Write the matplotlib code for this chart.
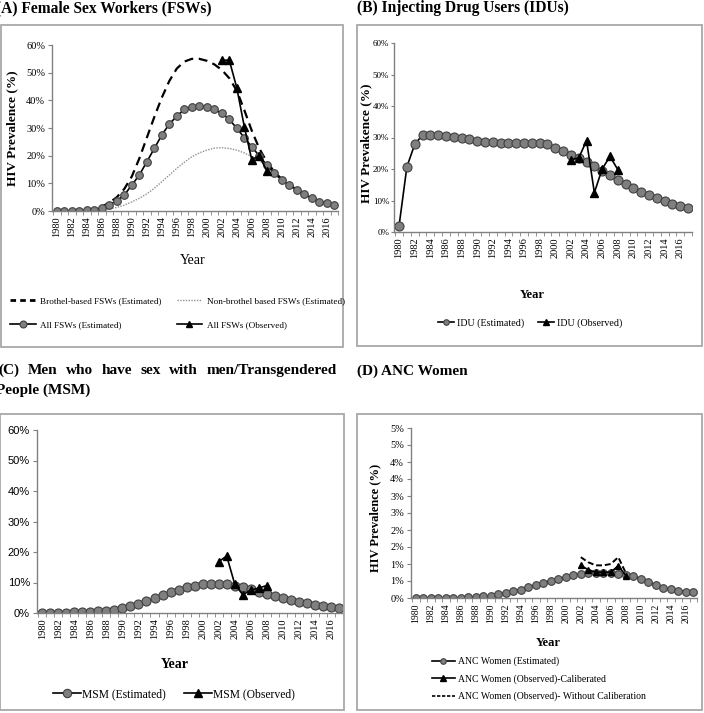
import numpy as np
import matplotlib
matplotlib.use("Agg")
import matplotlib.pyplot as plt
from matplotlib.patches import Rectangle
from matplotlib.lines import Line2D
from matplotlib.ticker import FuncFormatter, MultipleLocator

# ---- data (HIV prevalence, %) ----
years = list(range(1980, 2018))
obs_years = list(range(2002, 2009))

fsw_brothel = [0, 0, 0.1, 0.2, 0.4, 0.8, 1.6, 3.0, 5.0, 8.0, 12.5, 19.0, 26.5, 34.0,
               41.0, 47.0, 51.5, 54.0, 55.0, 55.0, 54.3, 53.0, 51.0, 48.0, 43.5, 36.5,
               29.0, 22.6, 17.8, 14.2, 11.5, 9.5, 7.7, 6.1, 4.7, 3.6, 2.9, 2.3]
fsw_nonbrothel = [0, 0, 0, 0, 0.1, 0.2, 0.4, 0.8, 1.3, 2.1, 3.3, 4.6, 6.2, 8.2,
                  10.6, 13.0, 15.4, 17.6, 19.6, 21.0, 22.0, 22.7, 22.9, 22.6, 22.0, 21.0,
                  19.6, 18.2, 16.3, 13.6, 11.3, 9.3, 7.6, 6.0, 4.7, 3.6, 2.8, 2.2]
fsw_all_est = [0, 0, 0, 0.1, 0.2, 0.5, 1.2, 2.3, 3.7, 5.8, 9.4, 13.0, 17.8, 22.6,
               27.5, 31.4, 34.3, 36.7, 37.7, 37.9, 37.7, 36.7, 35.3, 33.1, 29.9, 26.5,
               23.2, 19.9, 16.6, 13.6, 11.2, 9.4, 7.6, 6.0, 4.6, 3.4, 2.8, 2.2]
fsw_all_obs = [54.5, 54.5, 44.5, 30.5, 18.5, 20.0, 14.5]

idu_est = [2.0, 20.7, 27.8, 30.8, 30.8, 30.8, 30.5, 30.1, 29.7, 29.4, 28.9, 28.7, 28.5,
           28.3, 28.2, 28.2, 28.3, 28.3, 28.1, 27.8, 26.8, 25.7, 24.6, 23.6, 22.3, 20.9,
           19.5, 18.0, 16.5, 15.3, 14.0, 12.8, 11.8, 10.7, 9.7, 8.8, 8.1, 7.6]
idu_obs = [23.0, 23.5, 29.0, 12.5, 20.0, 24.0, 19.8]

msm_est = [0, 0.05, 0.1, 0.15, 0.2, 0.25, 0.35, 0.5, 0.7, 1.0, 1.5, 2.2, 2.9, 3.8,
           4.9, 5.9, 6.8, 7.7, 8.5, 9.0, 9.4, 9.6, 9.6, 9.4, 9.0, 8.5, 7.8, 6.9, 6.2,
           5.5, 4.9, 4.3, 3.7, 3.2, 2.7, 2.3, 2.0, 1.7]
msm_obs = [16.8, 18.7, 9.5, 6.0, 7.5, 8.2, 9.0]

anc_est = [0, 0, 0, 0, 0, 0, 0.01, 0.02, 0.03, 0.05, 0.07, 0.11, 0.15, 0.20, 0.25,
           0.31, 0.38, 0.45, 0.51, 0.57, 0.61, 0.67, 0.71, 0.74, 0.74, 0.74, 0.73,
           0.72, 0.69, 0.66, 0.56, 0.46, 0.39, 0.30, 0.26, 0.22, 0.19, 0.17]
anc_obs_cal = [0.96, 0.83, 0.76, 0.76, 0.76, 0.95, 0.66]
anc_obs_nocal = [1.2, 1.05, 0.96, 0.96, 1.0, 1.2, 0.74]

W, H = 704, 713
plt.rcParams['font.family'] = ['Liberation Serif', 'DejaVu Serif']
fig = plt.figure(figsize=(W / 100, H / 100), dpi=100)


def rect(l, t, r, b):
    return [l / W, 1 - b / H, (r - l) / W, (b - t) / H]


def fpos(x, y):
    return (x / W, 1 - y / H)


# panel frames
for l, t, r, b in [(1, 25, 343, 347), (357, 25, 702, 346),
                   (0, 414, 344, 710), (357, 414, 702, 710)]:
    fig.add_artist(Rectangle((l / W, 1 - b / H), (r - l) / W, (b - t) / H,
                             transform=fig.transFigure, fill=False,
                             edgecolor='#a8a8a8', lw=1.3))

gray = '#808080'
est_kw = dict(color='black', lw=1.2, marker='o', mfc='#7f7f7f', mec='#404040', mew=0.8)
obs_kw = dict(color='black', lw=1.2, marker='^', mfc='black', mec='black')

x_est = np.arange(len(years))
x_obs = np.array([years.index(y) for y in obs_years])


def pct(v, pos):
    return '%d%%' % round(v)


def pct_half_up(v, pos):
    # excel-style 0% format: 0.5 -> 1%, 1.5 -> 2% ...
    return '%d%%' % int(np.floor(v + 0.5 + 1e-9))


def style(ax, ymax, ystep, fmt, ysize=7.5, yfam=None, xsize=7.5, ytick=3, ypad=2):
    ax.set_xlim(-0.65, 37.4)
    ax.set_ylim(0, ymax)
    ax.yaxis.set_major_locator(MultipleLocator(ystep))
    ax.yaxis.set_major_formatter(FuncFormatter(fmt))
    ax.set_xticks(range(0, 38, 2))
    ax.set_xticklabels([str(y) for y in years[::2]], rotation=90, fontsize=xsize)
    ax.set_xticks(np.arange(-0.5, 38, 1), minor=True)
    ax.tick_params(axis='x', which='major', length=0, pad=4)
    ax.tick_params(axis='x', which='minor', length=3, color=gray)
    ax.tick_params(axis='y', length=ytick, color=gray, labelsize=ysize, pad=ypad)
    if yfam:
        for t in ax.get_yticklabels():
            t.set_family(yfam)
    for s in ['top', 'right']:
        ax.spines[s].set_visible(False)
    for s in ['left', 'bottom']:
        ax.spines[s].set_color(gray)
        ax.spines[s].set_linewidth(1.0)
    ax.patch.set_alpha(0)


# ---- (A) FSWs ----
fig.text(-4 / W, fpos(0, 8)[1], '(A) Female Sex Workers (FSWs)', fontsize=11.2,
         fontweight='bold', va='center', ha='left')
axA = fig.add_axes(rect(52, 45, 338, 211))
axA.plot(x_est, fsw_brothel, color='black', lw=1.6, ls=(0, (4, 2.5)))
axA.plot(x_est, fsw_nonbrothel, color='#909090', lw=1.0, ls=(0, (1, 1)))
axA.plot(x_est, fsw_all_est, ms=5.5, **est_kw)
axA.plot(x_obs, fsw_all_obs, ms=5.5, **obs_kw)
style(axA, 60, 10, pct)
fig.text(12 / W, fpos(0, 128)[1], 'HIV Prevalence (%)', rotation=90, fontsize=9.5,
         fontweight='bold', ha='center', va='center')
fig.text(fpos(193, 0)[0], fpos(0, 261)[1], 'Year', fontsize=10, ha='center', va='center')
hA = [Line2D([], [], color='black', lw=2, ls=(0, (2, 1.5))),
      Line2D([], [], color='#909090', lw=1.0, ls=(0, (1, 1))),
      Line2D([], [], ms=5, **est_kw),
      Line2D([], [], ms=5, **obs_kw)]
lA = ['Brothel-based FSWs (Estimated)', 'Non-brothel based FSWs (Estimated)',
      'All FSWs (Estimated)', 'All FSWs (Observed)']
fig.legend([hA[0], hA[2], hA[1], hA[3]], [lA[0], lA[2], lA[1], lA[3]], ncol=2,
           loc='center left', bbox_to_anchor=fpos(2, 313), frameon=False,
           fontsize=6.6, handlelength=2.8, handletextpad=0.5, columnspacing=1.6,
           labelspacing=1.7)

# ---- (B) IDUs ----
fig.text(357 / W, fpos(0, 8)[1], '(B) Injecting Drug Users (IDUs)', fontsize=11.2,
         fontweight='bold', va='center', ha='left')
axB = fig.add_axes(rect(394, 43, 692, 232))
axB.plot(x_est, idu_est, ms=6.5, **est_kw)
axB.plot(x_obs, idu_obs, ms=5.5, **obs_kw)
style(axB, 60, 10, pct, ysize=6.5, ytick=2, ypad=1.5)
fig.text(366 / W, fpos(0, 143)[1], 'HIV Prevakence (%)', rotation=90, fontsize=9.5,
         fontweight='bold', ha='center', va='center')
fig.text(fpos(532, 0)[0], fpos(0, 295)[1], 'Year', fontsize=9, fontweight='bold',
         ha='center', va='center')
fig.legend([Line2D([], [], ms=4, **est_kw), Line2D([], [], ms=4, **obs_kw)],
           ['IDU (Estimated)', 'IDU (Observed)'], ncol=2, loc='center',
           bbox_to_anchor=fpos(530, 323), frameon=False, fontsize=7.2,
           handlelength=1.6, handletextpad=0.3, columnspacing=1.4)

# ---- (C) MSM : justified two-line title ----
words = ['(C)', 'Men', 'who', 'have', 'sex', 'with', 'men/Transgendered']
renderer = fig.canvas.get_renderer()
ty = fpos(0, 370)[1]
objs = [fig.text(0, ty, w, fontsize=11, fontweight='bold', va='center', ha='left')
        for w in words]
widths = [o.get_window_extent(renderer).width for o in objs]
x0, x1 = -2, 337
gap = (x1 - x0 - sum(widths)) / (len(words) - 1)
cx = x0
for o, wd in zip(objs, widths):
    o.set_x(cx / W)
    cx += wd + gap
fig.text(-4 / W, fpos(0, 390)[1], 'People (MSM)', fontsize=11, fontweight='bold',
         va='center', ha='left')

axC = fig.add_axes(rect(37, 430, 343, 613))
axC.plot(x_est, msm_est, ms=6.5, **est_kw)
axC.plot(x_obs, msm_obs, ms=5.5, **obs_kw)
style(axC, 60, 10, pct, ysize=8, yfam='Liberation Sans', xsize=7.5)
fig.text(fpos(175, 0)[0], fpos(0, 665)[1], 'Year', fontsize=10, fontweight='bold',
         ha='center', va='center')
fig.legend([Line2D([], [], ms=6, **est_kw), Line2D([], [], ms=6, **obs_kw)],
           ['MSM (Estimated)', 'MSM (Observed)'], ncol=2, loc='center',
           bbox_to_anchor=fpos(174, 694), frameon=False, fontsize=8.4,
           handlelength=2.4, handletextpad=0.1, columnspacing=1.6)

# ---- (D) ANC Women ----
fig.text(357 / W, fpos(0, 371)[1], '(D) ANC Women', fontsize=11, fontweight='bold',
         va='center', ha='left')
axD = fig.add_axes(rect(411, 428, 697, 598))
axD.plot(x_obs, anc_obs_nocal, color='black', lw=1.4, ls=(0, (3, 1.5)))
axD.plot(x_est, anc_est, ms=5.5, **est_kw)
axD.plot(x_obs, anc_obs_cal, ms=5, **obs_kw)
style(axD, 5, 0.5, pct_half_up, xsize=7)
fig.text(375 / W, fpos(0, 518)[1], 'HIV Prevalence (%)', rotation=90, fontsize=9,
         fontweight='bold', ha='center', va='center')
fig.text(fpos(548, 0)[0], fpos(0, 643)[1], 'Year', fontsize=9, fontweight='bold',
         ha='center', va='center')
fig.legend([Line2D([], [], ms=4, **est_kw), Line2D([], [], ms=4, **obs_kw),
            Line2D([], [], color='black', lw=1.2, ls=(0, (2, 1)))],
           ['ANC Women (Estimated)', 'ANC Women (Observed)-Caliberated',
            'ANC Women (Observed)- Without Caliberation'], ncol=1, loc='center left',
           bbox_to_anchor=fpos(423, 679), frameon=False, fontsize=7,
           handlelength=2.4, handletextpad=0.3, labelspacing=0.8)

fig.savefig('out.png', dpi=100)
